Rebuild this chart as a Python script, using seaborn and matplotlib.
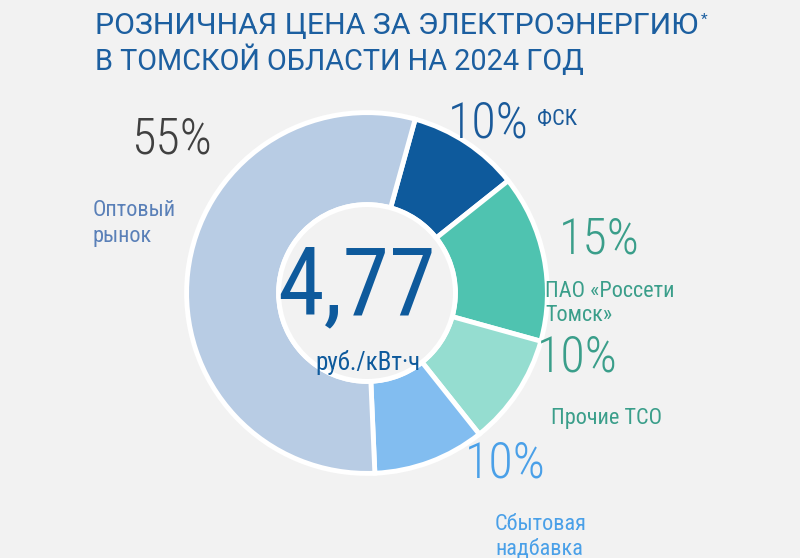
import matplotlib
matplotlib.use("Agg")
import matplotlib.pyplot as plt
import seaborn as sns
from matplotlib.patches import Circle

sns.set_theme(style="white")
plt.rcParams['font.family'] = ['Roboto Condensed', 'DejaVu Sans']

# Data
categories = ["ФСК", "ПАО «Россети\nТомск»", "Прочие ТСО", "Сбытовая\nнадбавка", "Оптовый\nрынок"]
shares = [10, 15, 10, 10, 55]
share_labels = ["10%", "15%", "10%", "10%", "55%"]
total_price = "4,77"
unit = "руб./кВт·ч"
title_lines = ["РОЗНИЧНАЯ ЦЕНА ЗА ЭЛЕКТРОЭНЕРГИЮ", "В ТОМСКОЙ ОБЛАСТИ НА 2024 ГОД"]

wedge_colors = ["#0e5a9c", "#4fc3b0", "#95ddd0", "#82bdf0", "#b8cce4"]
pct_colors = ["#1a5a9a", "#3a9e8a", "#3a9e8a", "#4aa0e8", "#404040"]
cat_colors = ["#1a5a9a", "#3a9e8a", "#3a9e8a", "#4aa0e8", "#5a80b8"]

W, H = 800, 558
bg = "#f2f2f2"
fig = plt.figure(figsize=(W / 100, H / 100), dpi=100, facecolor=bg)

cx, cy, R = 367, 293, 184
ax = fig.add_axes([(cx - R) / W, (H - cy - R) / H, 2 * R / W, 2 * R / H])
ax.set_facecolor(bg)
ax.pie(shares, colors=wedge_colors, startangle=74.5, counterclock=False,
       radius=1.0, wedgeprops=dict(width=0.51, edgecolor="white", linewidth=3.5))
ax.add_patch(Circle((0, 0), 0.49, facecolor=bg, edgecolor="white", linewidth=3.5, zorder=5))
ax.set_xlim(-1.02, 1.02)
ax.set_ylim(-1.02, 1.02)
ax.set_aspect("equal")
ax.axis("off")

renderer = fig.canvas.get_renderer()


def T(x, y, s, **kw):
    return fig.text(x / W, 1 - y / H, s, **kw)


def fit_width(t, target):
    bb = t.get_window_extent(renderer=renderer)
    t.set_fontsize(t.get_fontsize() * target / bb.width)


# Title
title_color = "#1c5fa0"
tfam = ['Roboto', 'DejaVu Sans']
t1 = T(95, 34, title_lines[0], fontsize=22, color=title_color, family=tfam, va="baseline")
fit_width(t1, 603)
t2 = T(95, 70, title_lines[1], fontsize=22, color=title_color, family=tfam, va="baseline")
fit_width(t2, 488)
T(701, 24, "*", fontsize=11, color=title_color, family=tfam, va="baseline")

# Center
T(357, 314, total_price, fontsize=68, color="#0e5a9c", ha="center", va="baseline")
T(368, 370, unit, fontsize=18, color="#0e5a9c", ha="center", va="baseline")

pct_kw = dict(fontsize=36, fontweight="light", va="baseline")
cat_kw = dict(fontsize=16, va="baseline")

# ФСК
T(448, 138, share_labels[0], color=pct_colors[0], **pct_kw)
T(537, 125, categories[0], color=cat_colors[0], **cat_kw)
# Россети
T(559, 253, share_labels[1], color=pct_colors[1], **pct_kw)
T(545, 297, categories[1].split("\n")[0], color=cat_colors[1], **cat_kw)
T(545, 321, categories[1].split("\n")[1], color=cat_colors[1], **cat_kw)
# Прочие
T(537, 371, share_labels[2], color=pct_colors[2], **pct_kw)
T(551, 424, categories[2], color=cat_colors[2], **cat_kw)
# Сбытовая
T(465, 477, share_labels[3], color=pct_colors[3], **pct_kw)
T(495, 530, categories[3].split("\n")[0], color=cat_colors[3], **cat_kw)
T(495, 554, categories[3].split("\n")[1], color=cat_colors[3], **cat_kw)
# Оптовый
T(131, 154, share_labels[4], color=pct_colors[4], **pct_kw)
T(93, 216, categories[4].split("\n")[0], color=cat_colors[4], **cat_kw)
T(93, 242, categories[4].split("\n")[1], color=cat_colors[4], **cat_kw)

fig.savefig("out.png", dpi=100, facecolor=bg)
